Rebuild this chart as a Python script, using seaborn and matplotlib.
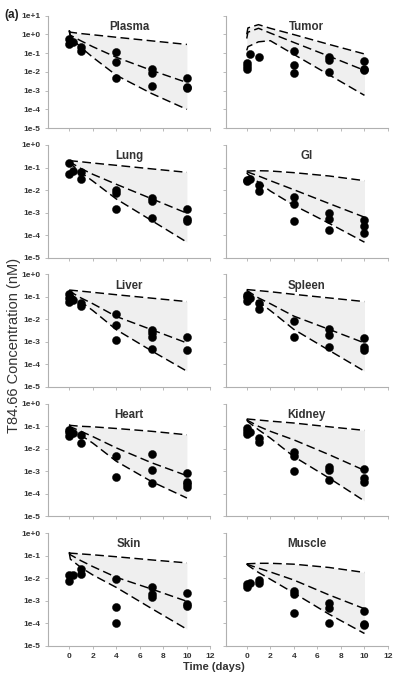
import numpy as np
import pandas as pd
import seaborn as sns
import matplotlib
matplotlib.use("Agg")
import matplotlib.pyplot as plt
from matplotlib.ticker import FuncFormatter, FixedLocator, NullLocator

# time grid of the model prediction curves (days)
t_pred = [0, 0.1, 1, 2, 4, 7, 10]

organs = ["Plasma", "Tumor", "Lung", "GI", "Liver", "Spleen", "Heart", "Kidney", "Skin", "Muscle"]

# observed concentrations (nM)
plasma_t = [0, 0, 0.3, 1, 1, 4, 4, 4, 7, 7, 7, 10, 10, 10]
plasma_c = [0.6, 0.3, 0.4, 0.22, 0.13, 0.11, 0.035, 0.0045, 0.015, 0.009, 0.0018, 0.005, 0.0015, 0.0013]
tumor_t = [0, 0, 0, 0.3, 1, 4, 4, 4, 7, 7, 7, 10, 10, 10]
tumor_c = [0.03, 0.021, 0.015, 0.085, 0.063, 0.13, 0.023, 0.009, 0.059, 0.042, 0.0093, 0.037, 0.014, 0.012]
lung_t = [0, 0, 0.3, 1, 1, 4, 4, 4, 7, 7, 7, 10, 10, 10]
lung_c = [0.165, 0.05, 0.073, 0.063, 0.032, 0.01, 0.007, 0.0015, 0.0043, 0.0032, 0.0006, 0.0015, 0.00052, 0.00044]
gi_t = [0, 0, 0.3, 1, 1, 4, 4, 4, 7, 7, 7, 10, 10, 10]
gi_c = [0.028, 0.026, 0.031, 0.017, 0.009, 0.0048, 0.0024, 0.00044, 0.00093, 0.0005, 0.00017, 0.00047, 0.00025, 0.00012]
liver_t = [0, 0, 0, 0.3, 1, 1, 4, 4, 4, 7, 7, 7, 7, 10, 10]
liver_c = [0.14, 0.087, 0.058, 0.073, 0.056, 0.04, 0.017, 0.0056, 0.00126, 0.0035, 0.0025, 0.0017, 0.00049, 0.0016, 0.00043]
spleen_t = [0, 0, 0, 0.3, 1, 1, 4, 4, 7, 7, 7, 10, 10, 10]
spleen_c = [0.12, 0.1, 0.069, 0.09, 0.052, 0.029, 0.0087, 0.0016, 0.0037, 0.0021, 0.00058, 0.0015, 0.0006, 0.00046]
heart_t = [0, 0, 0, 0.3, 1, 1, 4, 4, 7, 7, 7, 10, 10, 10, 10]
heart_c = [0.07, 0.055, 0.038, 0.05, 0.04, 0.018, 0.0046, 0.00056, 0.0059, 0.0011, 0.0003, 0.0008, 0.00032, 0.00026, 0.00021]
kidney_t = [0, 0, 0, 0.3, 1, 1, 4, 4, 4, 7, 7, 7, 10, 10, 10]
kidney_c = [0.085, 0.062, 0.047, 0.055, 0.03, 0.021, 0.0069, 0.0046, 0.001, 0.0015, 0.0012, 0.0004, 0.0013, 0.0005, 0.00032]
skin_t = [0, 0, 0.3, 1, 1, 4, 4, 4, 7, 7, 7, 10, 10, 10]
skin_c = [0.014, 0.0076, 0.0135, 0.025, 0.016, 0.0096, 0.00051, 0.000105, 0.0039, 0.002, 0.0014, 0.0022, 0.00072, 0.00061]
muscle_t = [0, 0, 0.3, 1, 1, 4, 4, 4, 7, 7, 7, 10, 10, 10]
muscle_c = [0.0058, 0.0039, 0.0063, 0.0084, 0.006, 0.0028, 0.0019, 0.00029, 0.00079, 0.00047, 0.0001, 0.00035, 0.000095, 0.000081]

# model predictions: upper / median / lower
plasma_hi = [1.6, 1.3, 1.1, 0.95, 0.7, 0.45, 0.29]
plasma_mid = [1.6, 0.9, 0.45, 0.22, 0.06, 0.012, 0.0027]
plasma_lo = [1.6, 0.7, 0.2, 0.06, 0.0066, 0.0007, 0.0001]
tumor_hi = [1.0, 2.2, 3.3, 2.1, 0.97, 0.29, 0.09]
tumor_mid = [0.6, 1.3, 2.1, 1.17, 0.37, 0.068, 0.012]
tumor_lo = [0.14, 0.22, 0.4, 0.46, 0.085, 0.0069, 0.00056]
lung_hi = [0.2, 0.2, 0.18, 0.158, 0.125, 0.087, 0.061]
lung_mid = [0.2, 0.17, 0.09, 0.05, 0.018, 0.0041, 0.00093]
lung_lo = [0.18, 0.15, 0.06, 0.025, 0.004, 0.00044, 0.000048]
gi_hi = [0.07, 0.07, 0.072, 0.07, 0.059, 0.042, 0.026]
gi_mid = [0.066, 0.062, 0.042, 0.026, 0.0103, 0.0025, 0.00062]
gi_lo = [0.059, 0.05, 0.022, 0.009, 0.0021, 0.00033, 0.000048]
liver_hi = [0.2, 0.2, 0.18, 0.16, 0.125, 0.088, 0.062]
liver_mid = [0.2, 0.17, 0.09, 0.05, 0.0135, 0.0035, 0.0009]
liver_lo = [0.16, 0.14, 0.06, 0.025, 0.0035, 0.0004, 0.00005]
spleen_hi = [0.21, 0.21, 0.19, 0.17, 0.13, 0.09, 0.062]
spleen_mid = [0.21, 0.18, 0.09, 0.05, 0.014, 0.0036, 0.0009]
spleen_lo = [0.17, 0.15, 0.06, 0.025, 0.0036, 0.00042, 0.00005]
heart_hi = [0.12, 0.11, 0.1, 0.095, 0.08, 0.06, 0.042]
heart_mid = [0.11, 0.095, 0.06, 0.035, 0.011, 0.0024, 0.00064]
heart_lo = [0.1, 0.085, 0.04, 0.018, 0.0028, 0.00035, 0.000065]
kidney_hi = [0.21, 0.21, 0.19, 0.17, 0.14, 0.095, 0.066]
kidney_mid = [0.21, 0.18, 0.1, 0.06, 0.025, 0.0055, 0.0011]
kidney_lo = [0.19, 0.16, 0.07, 0.03, 0.0045, 0.0005, 0.000048]
skin_hi = [0.14, 0.13, 0.12, 0.11, 0.09, 0.065, 0.048]
skin_mid = [0.14, 0.11, 0.06, 0.033, 0.011, 0.0033, 0.00094]
skin_lo = [0.14, 0.07, 0.03, 0.014, 0.0039, 0.00045, 0.000054]
muscle_hi = [0.044, 0.044, 0.046, 0.046, 0.042, 0.03, 0.018]
muscle_mid = [0.044, 0.04, 0.028, 0.019, 0.0083, 0.0018, 0.00044]
muscle_lo = [0.044, 0.037, 0.018, 0.009, 0.0022, 0.00025, 0.000035]

obs = {
    "Plasma": (plasma_t, plasma_c), "Tumor": (tumor_t, tumor_c), "Lung": (lung_t, lung_c),
    "GI": (gi_t, gi_c), "Liver": (liver_t, liver_c), "Spleen": (spleen_t, spleen_c),
    "Heart": (heart_t, heart_c), "Kidney": (kidney_t, kidney_c), "Skin": (skin_t, skin_c),
    "Muscle": (muscle_t, muscle_c),
}
pred = {
    "Plasma": (plasma_hi, plasma_mid, plasma_lo), "Tumor": (tumor_hi, tumor_mid, tumor_lo),
    "Lung": (lung_hi, lung_mid, lung_lo), "GI": (gi_hi, gi_mid, gi_lo),
    "Liver": (liver_hi, liver_mid, liver_lo), "Spleen": (spleen_hi, spleen_mid, spleen_lo),
    "Heart": (heart_hi, heart_mid, heart_lo), "Kidney": (kidney_hi, kidney_mid, kidney_lo),
    "Skin": (skin_hi, skin_mid, skin_lo), "Muscle": (muscle_hi, muscle_mid, muscle_lo),
}

sns.set_style("ticks")
plt.rcParams['font.family'] = ['Liberation Sans', 'DejaVu Sans']

spine_col = "#b0b0b0"
fig, axes = plt.subplots(5, 2, figsize=(4.0, 6.78), dpi=100)
fig.subplots_adjust(left=0.12, right=0.97, top=0.977, bottom=0.0476, hspace=0.15, wspace=0.093)


def dec_fmt(v, pos):
    return f"1e{int(round(np.log10(v))):+d}"


for i, organ in enumerate(organs):
    ax = axes[i // 2, i % 2]
    hi, mid, lo = pred[organ]
    ax.fill_between(t_pred, hi, lo, color="#efefef", lw=0, zorder=0)
    curves = pd.DataFrame({"t": t_pred * 3,
                           "c": hi + mid + lo,
                           "band": ["hi"] * 7 + ["mid"] * 7 + ["lo"] * 7})
    sns.lineplot(data=curves, x="t", y="c", units="band", estimator=None, color="black",
                 lw=1.05, ax=ax, zorder=2)
    for ln in ax.get_lines():
        ln.set_dashes((6, 3))
    tt, cc = obs[organ]
    sns.scatterplot(x=tt, y=cc, color="black", s=34, edgecolor="black", linewidth=0.3, ax=ax, zorder=3)

    ax.set_yscale("log")
    if i < 2:
        ax.set_ylim(1e-5, 1e1)
        yt = [10.0 ** k for k in range(-5, 2)]
    else:
        ax.set_ylim(1e-5, 1e0)
        yt = [10.0 ** k for k in range(-5, 1)]
    ax.yaxis.set_major_locator(FixedLocator(yt))
    ax.yaxis.set_minor_locator(NullLocator())
    ax.yaxis.set_major_formatter(FuncFormatter(dec_fmt))
    ax.set_xlim(-1.8, 12)
    ax.set_xticks(range(0, 13, 2))
    ax.set_xlabel("")
    ax.set_ylabel("")

    for side in ["top", "right"]:
        ax.spines[side].set_visible(False)
    for side in ["left", "bottom"]:
        ax.spines[side].set_color(spine_col)
        ax.spines[side].set_linewidth(0.8)
    ax.tick_params(axis="both", length=2.5, width=0.6, color=spine_col, pad=3,
                   labelsize=6, labelcolor="#333333")
    for lab in ax.get_xticklabels() + ax.get_yticklabels():
        lab.set_fontweight("bold")
    if i % 2 == 1:
        ax.tick_params(axis="y", labelleft=False)
    if i < 8:
        ax.tick_params(axis="x", labelbottom=False)

    ax.text(0.5, 0.9, organ, transform=ax.transAxes, ha="center", va="center",
            fontsize=8.3, fontweight="bold", color="#333333")

fig.text(0.035, 0.49, "T84.66 Concentration (nM)", rotation=90, ha="center", va="center",
         fontsize=10.5, color="#333333")
fig.text(0.535, 0.016, "Time (days)", ha="center", va="center",
         fontsize=8, fontweight="bold", color="#333333")
fig.text(0.012, 0.978, "(a)", ha="left", va="center", fontsize=8.5, fontweight="bold", color="#222222")

fig.savefig("out.png", dpi=100)
